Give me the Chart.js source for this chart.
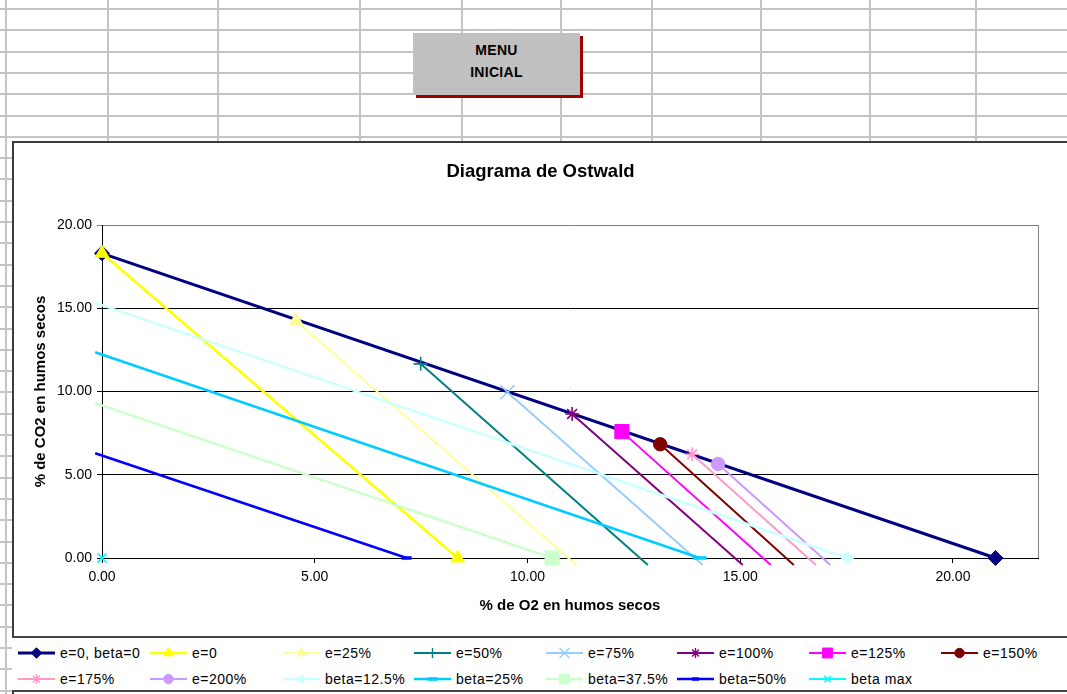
<!DOCTYPE html>
<html>
<head>
<meta charset="utf-8">
<script src="https://cdn.jsdelivr.net/npm/chart.js@4/dist/chart.umd.min.js"></script>
<style>
  html, body { margin: 0; padding: 0; background: #fff; overflow: hidden; width: 1067px; height: 694px;
               font-family: "Liberation Sans", Arial, sans-serif; }
  .gv { position: absolute; top: 0; width: 2px; height: 694px; background: #c4c4c4; }
  .gh { position: absolute; left: 0; height: 2px; width: 1067px; background: #c4c4c4; }
  #boton { position: absolute; left: 413px; top: 33px; width: 167px; height: 62px; background: #c0c0c0;
           box-shadow: 3px 3px 0 #a00000; text-align: center; font-weight: bold; font-size: 14px;
           line-height: 22px; box-sizing: border-box; padding-top: 6px; color: #000; letter-spacing: 0.3px; }
  #marco { position: absolute; left: 12px; top: 141px; width: 1070px; height: 570px;
           border: 2px solid #3c3c3c; background: #fff; }
  #grafico { position: absolute; left: 14px; top: 144px; }
  #leyenda { position: absolute; left: 12px; top: 636px; width: 1070px; height: 52px;
             border-top: 2px solid #444; border-bottom: 2px solid #444; background: #fff; }
  .item { position: absolute; height: 20px; display: flex; align-items: center; font-size: 14px;
          color: #000; white-space: nowrap; letter-spacing: 0.5px; }
  .item canvas { margin-right: 4px; }
</style>
</head>
<body>
<div id="hoja"></div>
<div id="boton">MENU<br>INICIAL</div>
<div id="marco"></div>
<canvas id="grafico" width="1053" height="493"></canvas>
<div id="leyenda"></div>

<script>
// Series names, in plotting order
const nombres = ['e=0, beta=0', 'e=0', 'e=25%', 'e=50%', 'e=75%', 'e=100%', 'e=125%', 'e=150%',
                 'e=175%', 'e=200%', 'beta=12.5%', 'beta=25%', 'beta=37.5%', 'beta=50%', 'beta max'];

// % O2 / % CO2 at the first point of each series
const o2Inicio  = [0, 0, 4.56, 7.49, 9.53, 11.05, 12.22, 13.12, 13.87, 14.48, -0.16, -0.16, -0.16, -0.16, 0];
const co2Inicio = [18.3, 18.3, 14.24, 11.66, 9.96, 8.65, 7.59, 6.83, 6.23, 5.65, 15.32, 12.36, 9.30, 6.29, 0];

// % O2 / % CO2 at the last point of each series (beta max is a single point)
const o2Fin  = [21, 8.36, 11.15, 12.83, 14.12, 15.06, 15.72, 16.26, 16.78, 17.12, 17.52, 14.05, 10.58, 7.16, null];
const co2Fin = [0, 0, -0.42, -0.42, -0.42, -0.42, -0.42, -0.42, -0.42, -0.42, 0, 0, 0, 0, null];

// Axis tick values
const ticksO2  = [0, 5, 10, 15, 20];
const ticksCO2 = [0, 5, 10, 15, 20];

// Look of each series: colour, marker, marker radius, line width, which ends carry a marker
const estilos = [
  { color: '#000080', marca: 'rectRot',  r: 7.5, ancho: 3,   extremos: [1, 1] },
  { color: '#FFFF00', marca: 'triangle', r: 8,   ancho: 2.5, extremos: [1, 1] },
  { color: '#FFFF99', marca: 'triangle', r: 8,   ancho: 2,   extremos: [1, 0] },
  { color: '#008080', marca: 'cross',    r: 7,   ancho: 2,   extremos: [1, 0] },
  { color: '#99CCFF', marca: 'crossRot', r: 10,  ancho: 2,   extremos: [1, 0] },
  { color: '#800080', marca: 'star',     r: 7,   ancho: 2,   extremos: [1, 0] },
  { color: '#FF00FF', marca: 'rect',     r: 10,  ancho: 2,   extremos: [1, 0] },
  { color: '#800000', marca: 'circle',   r: 6.7, ancho: 2,   extremos: [1, 0] },
  { color: '#FF99CC', marca: 'star',     r: 7,   ancho: 2,   extremos: [1, 0] },
  { color: '#CC99FF', marca: 'circle',   r: 6.7, ancho: 2,   extremos: [1, 0] },
  { color: '#CCFFFF', marca: 'rectRot',  r: 6.5, ancho: 2.5, extremos: [0, 1] },
  { color: '#00CCFF', marca: 'line',     r: 7,   ancho: 2.5, extremos: [0, 1] },
  { color: '#CCFFCC', marca: 'rect',     r: 10,  ancho: 2.5, extremos: [0, 1] },
  { color: '#0000FF', marca: 'line',     r: 5,   ancho: 2.5, extremos: [0, 1] },
  { color: '#00FFFF', marca: 'crossRot', r: 6.5, ancho: 2,   extremos: [1, 1] }
];

// Spreadsheet grid behind the chart
(function () {
  const hoja = document.getElementById('hoja');
  const columnas = [5, 107, 217, 359, 461, 560, 651, 760, 869, 975];
  columnas.forEach(x => {
    const d = document.createElement('div'); d.className = 'gv'; d.style.left = x + 'px'; hoja.appendChild(d);
  });
  for (let y = 8; y < 694; y += 21.3) {
    const d = document.createElement('div'); d.className = 'gh'; d.style.top = Math.round(y) + 'px'; hoja.appendChild(d);
  }
})();

const lineal = (m) => ['line', 'cross', 'crossRot', 'star'].includes(m);

const datasets = nombres.map((nombre, i) => {
  const e = estilos[i];
  const puntos = [{ x: o2Inicio[i], y: co2Inicio[i] }];
  if (o2Fin[i] !== null) puntos.push({ x: o2Fin[i], y: co2Fin[i] });
  return {
    label: nombre,
    data: puntos,
    showLine: true,
    borderColor: e.color,
    backgroundColor: e.color,
    borderWidth: e.ancho,
    pointStyle: e.marca,
    pointRadius: puntos.map((p, k) => e.extremos[k] ? e.r : 0),
    pointHoverRadius: puntos.map((p, k) => e.extremos[k] ? e.r : 0),
    pointBackgroundColor: e.color,
    pointBorderColor: e.color,
    pointBorderWidth: e.marca === 'line' ? 3.5 : (lineal(e.marca) ? 1.6 : 1),
    clip: false,
    order: 100 - i
  };
});

const bordeArea = {
  id: 'bordeArea',
  beforeDatasetsDraw(chart) {
    const { ctx, chartArea: a } = chart;
    ctx.save();
    ctx.strokeStyle = '#808080';
    ctx.lineWidth = 1;
    ctx.beginPath();
    ctx.moveTo(Math.round(a.right) + 0.5, a.top);
    ctx.lineTo(Math.round(a.right) + 0.5, a.bottom);
    ctx.stroke();
    ctx.restore();
  }
};

const fuente = 'Liberation Sans, Arial, sans-serif';

new Chart(document.getElementById('grafico'), {
  type: 'scatter',
  data: { datasets },
  plugins: [bordeArea],
  options: {
    responsive: false,
    devicePixelRatio: 1,
    animation: false,
    events: [],
    layout: { padding: 0 },
    plugins: {
      legend: { display: false },
      tooltip: { enabled: false },
      title: {
        display: true,
        text: 'Diagrama de Ostwald',
        color: '#000',
        font: { family: fuente, size: 18.5, weight: 'bold' },
        padding: { top: 16.9, bottom: 41.9 }
      }
    },
    scales: {
      x: {
        type: 'linear',
        min: 0, max: 22,
        afterBuildTicks: s => { s.ticks = ticksO2.map(v => ({ value: v })); },
        afterFit: s => { s.height = 79; },
        ticks: { color: '#000', font: { family: fuente, size: 14 }, padding: 6,
                 callback: v => Number(v).toFixed(2), maxRotation: 0 },
        grid: { drawOnChartArea: false, drawTicks: true, tickLength: 5, color: '#000' },
        border: { color: '#000', width: 1 },
        title: { display: true, text: '% de O2 en humos secos', color: '#000',
                 font: { family: fuente, size: 15, weight: 'bold' }, padding: { top: 4, bottom: 22 } }
      },
      y: {
        type: 'linear',
        min: 0, max: 20,
        afterBuildTicks: s => { s.ticks = ticksCO2.map(v => ({ value: v })); },
        afterFit: s => { s.width = 88; },
        ticks: { color: '#000', font: { family: fuente, size: 14 }, padding: 5,
                 callback: v => Number(v).toFixed(2) },
        grid: { color: c => (c.tick && c.tick.value === 20) ? '#808080' : '#000', tickLength: 5, lineWidth: 1 },
        border: { color: '#000', width: 1 },
        title: { display: true, text: '% de CO2 en humos secos', color: '#000',
                 font: { family: fuente, size: 15, weight: 'bold' }, padding: { top: 18, bottom: 4 } }
      },
      // empty right-hand margin of the plot
      margen: {
        type: 'linear',
        position: 'right',
        min: 0, max: 20,
        afterFit: s => { s.width = 29; },
        ticks: { display: false },
        grid: { display: false, drawTicks: false },
        border: { display: false }
      }
    }
  }
});

// Legend: two rows of eight fixed-width columns, symbols drawn with Chart.js point helpers
(function () {
  const leyenda = document.getElementById('leyenda');
  const columnas = [6, 138, 271, 402, 534, 665, 797, 929];
  const filas = [5, 31];
  nombres.forEach((nombre, i) => {
    const e = estilos[i];
    const item = document.createElement('div');
    item.className = 'item';
    item.style.left = columnas[i % 8] + 'px';
    item.style.top = filas[Math.floor(i / 8)] + 'px';
    const c = document.createElement('canvas');
    c.width = 38; c.height = 20;
    const ctx = c.getContext('2d');
    ctx.strokeStyle = e.color;
    ctx.lineWidth = e.ancho;
    ctx.beginPath(); ctx.moveTo(0, 10); ctx.lineTo(37, 10); ctx.stroke();
    ctx.fillStyle = e.color;
    ctx.lineWidth = e.marca === 'line' ? 3.5 : (lineal(e.marca) ? 1.4 : 1);
    Chart.helpers.drawPoint(ctx, { pointStyle: e.marca, radius: e.r * 0.7, borderWidth: ctx.lineWidth, rotation: 0 }, 18.5, 10);
    item.appendChild(c);
    const t = document.createElement('span');
    t.textContent = nombre;
    item.appendChild(t);
    leyenda.appendChild(item);
  });
})();
</script>
</body>
</html>
